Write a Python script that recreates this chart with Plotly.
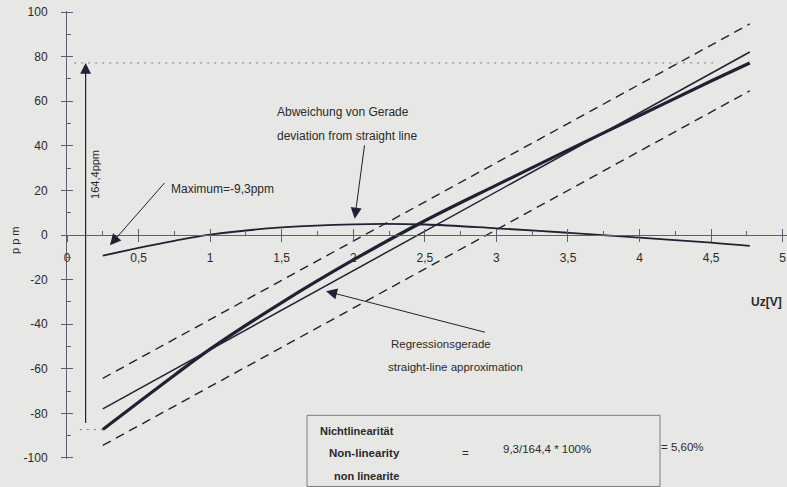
import plotly.graph_objects as go

# Output voltage Uz [V] of the sampled points
uz_v = [0.25, 0.5, 0.75, 1.0, 1.5, 2.0, 2.5, 3.0, 3.5, 4.0, 4.5, 4.77]
# Measured characteristic [ppm]
measured_ppm = [-87.3, -75.0, -62.9, -51.2, -30.3, -11.2, 6.4, 22.4, 38.1, 53.6, 69.1, 77.2]
# Deviation of the measured characteristic from the regression line [ppm]
deviation_ppm = [-9.3, -5.8, -2.6, 0.2, 3.4, 4.8, 4.7, 3.0, 1.0, -1.2, -3.4, -4.9]

# Straight lines, given by their two end points
line_v = [0.25, 4.77]
regression_ppm = [-78.0, 82.1]
band_upper_ppm = [-64.3, 94.7]
band_lower_ppm = [-94.4, 64.7]

# Axis ticks
x_tickvals = [0, 0.5, 1, 1.5, 2, 2.5, 3, 3.5, 4, 4.5, 5]
x_ticktext = ["0", "0,5", "1", "1,5", "2", "2,5", "3", "3,5", "4", "4,5", "5"]
y_tickvals = [-100, -80, -60, -40, -20, 0, 20, 40, 60, 80, 100]
y_ticktext = ["-100", "-80", "-60", "-40", "-20", "0", "20", "40", "60", "80", "100"]

# Span marker (total swing of the measured curve)
span_v = 0.13
span_bottom_ppm = -85.0

INK = "#1e2232"
AXIS = "#5d6072"
TEXT = "#2a2a2a"
BG = "#e7e7e5"
FONT = "Liberation Sans, Arial, sans-serif"

W, H = 787, 487
ML, MR, MT, MB = 67, 0, 11.4, 28.4
PW, PH = W - ML - MR, H - MT - MB


def at(px, py):
    """Page pixel position -> paper coordinates."""
    return (px - ML) / PW, (H - MB - py) / PH


fig = go.Figure()

# tolerance band
for band in (band_upper_ppm, band_lower_ppm):
    fig.add_trace(go.Scatter(x=line_v, y=band, mode="lines",
                             line=dict(color=INK, width=1.4, dash="9px,6px"),
                             hoverinfo="skip"))

# regression line
fig.add_trace(go.Scatter(x=line_v, y=regression_ppm, mode="lines",
                         line=dict(color=INK, width=1.5), hoverinfo="skip"))

# measured characteristic
fig.add_trace(go.Scatter(x=uz_v, y=measured_ppm, mode="lines",
                         line=dict(color=INK, width=3.2, shape="spline", smoothing=1.0),
                         hoverinfo="skip"))

# deviation from straight line
fig.add_trace(go.Scatter(x=uz_v, y=deviation_ppm, mode="lines",
                         line=dict(color=INK, width=1.8, shape="spline", smoothing=1.0),
                         hoverinfo="skip"))

# dotted guides at the extremes of the measured curve
top = max(measured_ppm)
bottom = min(measured_ppm)
fig.add_trace(go.Scatter(x=[0.05, 4.55], y=[top, top], mode="lines",
                         line=dict(color="#777a88", width=1, dash="2px,5px"),
                         hoverinfo="skip"))
fig.add_trace(go.Scatter(x=[0.09, 0.28], y=[bottom, bottom], mode="lines",
                         line=dict(color="#777a88", width=1, dash="2px,5px"),
                         hoverinfo="skip"))

# invisible trace carrying the secondary (crossing tick) axes
fig.add_trace(go.Scatter(x=[0], y=[0], mode="markers", marker=dict(opacity=0),
                         xaxis="x2", yaxis="y2", hoverinfo="skip"))

axis_font = dict(family=FONT, size=12, color=TEXT)

fig.update_layout(
    width=W, height=H,
    margin=dict(l=ML, r=MR, t=MT, b=MB, pad=0),
    paper_bgcolor=BG, plot_bgcolor=BG,
    showlegend=False,
    font=dict(family=FONT, color=TEXT),
    xaxis=dict(range=[0, 5.03], anchor="free", position=0.5,
               showgrid=False, zeroline=False,
               showline=True, linecolor=AXIS, linewidth=1,
               tickmode="array", tickvals=x_tickvals, ticktext=x_ticktext,
               ticks="inside", ticklen=6, tickcolor=AXIS,
               minor=dict(tickmode="linear", tick0=0, dtick=0.25, ticks="inside",
                          ticklen=4, tickcolor=AXIS),
               tickfont=axis_font, ticklabelstandoff=12,
               ticklabeloverflow="allow"),
    xaxis2=dict(overlaying="x", matches="x", anchor="free", position=0.5,
                showgrid=False, zeroline=False, showline=False,
                tickmode="array", tickvals=x_tickvals,
                ticks="outside", ticklen=6, tickcolor=AXIS, showticklabels=False),
    yaxis=dict(range=[-100.5, 100.5], anchor="x",
               showgrid=False, zeroline=False,
               showline=True, linecolor=AXIS, linewidth=1,
               tickmode="array", tickvals=y_tickvals, ticktext=y_ticktext,
               ticks="inside", ticklen=6, tickcolor=AXIS,
               minor=dict(tickmode="linear", tick0=0, dtick=10, ticks="inside",
                          ticklen=4, tickcolor=AXIS),
               tickfont=axis_font, ticklabelstandoff=16),
    yaxis2=dict(overlaying="y", matches="y", anchor="free", position=0, side="left",
                showgrid=False, zeroline=False, showline=False,
                tickmode="array", tickvals=y_tickvals,
                ticks="outside", ticklen=6, tickcolor=AXIS, showticklabels=False),
)

# span arrow for the total swing
fig.add_annotation(x=span_v, y=top, ax=span_v, ay=span_bottom_ppm,
                   xref="x", yref="y", axref="x", ayref="y",
                   text="", showarrow=True, arrowhead=2, arrowsize=1.8,
                   arrowwidth=1.2, arrowcolor=INK, standoff=0)

# pointer arrows
arrows = [
    ((0.30, -4.6), (0.69, 24.0)),   # Maximum
    ((2.01, 7.3), (2.08, 40.9)),    # Abweichung von Gerade
    ((1.81, -25.2), (2.93, -43.8)), # Regressionsgerade
]
for (tx, ty), (sx, sy) in arrows:
    fig.add_annotation(x=tx, y=ty, ax=sx, ay=sy,
                       xref="x", yref="y", axref="x", ayref="y",
                       text="", showarrow=True, arrowhead=2, arrowsize=2.2,
                       arrowwidth=1, arrowcolor=INK, standoff=0)


def label(text, px, py, size=12, bold=False, angle=0, anchor="left"):
    x, y = at(px, py)
    fig.add_annotation(x=x, y=y, xref="paper", yref="paper",
                       text=f"<b>{text}</b>" if bold else text,
                       showarrow=False, xanchor=anchor, yanchor="middle",
                       textangle=angle,
                       font=dict(family=FONT, size=size, color=TEXT))


label("Maximum=-9,3ppm", 169, 189)
label("Abweichung von Gerade", 275, 112)
label("deviation from straight line", 275, 136)
label("Regressionsgerade", 389, 344, size=11.5)
label("straight-line approximation", 386, 367, size=11.5)
label("164,4ppm", 95, 175, size=11, angle=-90, anchor="center")
label("p p m", 15, 240, size=11, angle=-90, anchor="center")
label("Uz[V]", 749, 302, size=12, bold=True)

# result box
x0, y0 = at(307, 486)
x1, y1 = at(660, 415)
fig.add_shape(type="rect", xref="paper", yref="paper", x0=x0, y0=y0, x1=x1, y1=y1,
              line=dict(color="#7a7a7a", width=1))
label("Nichtlinearität", 318, 431, size=11, bold=True)
label("Non-linearity", 327, 453, size=11.5, bold=True)
label("non linearite", 332, 476, size=11, bold=True)
label("=", 460, 453, size=11.5)
label("9,3/164,4 * 100%", 501, 449, size=11.5)
label("= 5,60%", 659, 447, size=11.5)

fig.write_html("out.html", config={"displayModeBar": False})
